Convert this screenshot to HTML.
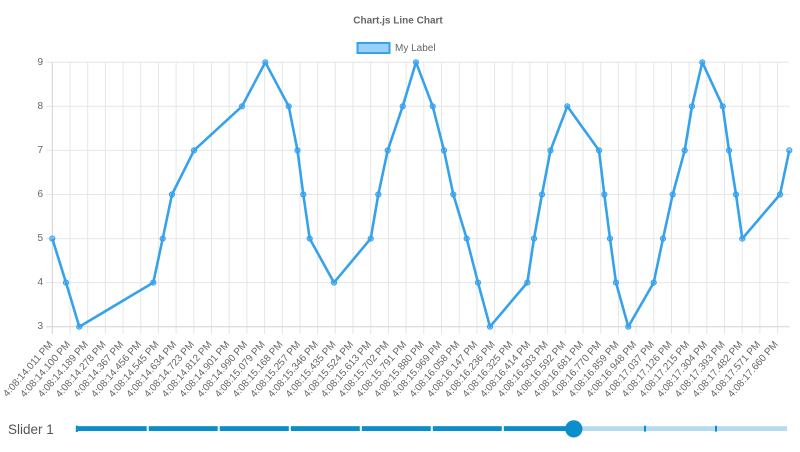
<!DOCTYPE html>
<html>
<head>
<meta charset="utf-8">
<style>
html,body{margin:0;padding:0;background:#fff;}
svg{display:block;}
text{font-family:"Liberation Sans",Arial,sans-serif;}
</style>
</head>
<body>
<svg width="800" height="452" viewBox="0 0 800 452" xmlns="http://www.w3.org/2000/svg">
<rect width="800" height="452" fill="#fff"/>
<!-- title -->
<text x="398" y="21" text-anchor="middle" dominant-baseline="central" font-size="10" font-weight="bold" fill="#666">Chart.js Line Chart</text>
<!-- legend -->
<rect x="357.5" y="43" width="32" height="10" fill="rgba(54,162,235,0.5)" stroke="#36A2EB" stroke-width="2"/>
<text x="395" y="48.5" dominant-baseline="central" font-size="10" fill="#666">My Label</text>

<!-- horizontal gridlines -->
<g stroke="#e6e6e6" stroke-width="1">
<line x1="46" y1="62.3" x2="789.5" y2="62.3"/>
<line x1="46" y1="106.3" x2="789.5" y2="106.3"/>
<line x1="46" y1="150.4" x2="789.5" y2="150.4"/>
<line x1="46" y1="194.5" x2="789.5" y2="194.5"/>
<line x1="46" y1="238.6" x2="789.5" y2="238.6"/>
<line x1="46" y1="282.6" x2="789.5" y2="282.6"/>
</g>
<!-- vertical gridlines -->
<g stroke="#e6e6e6" stroke-width="1">
<line x1="70.0" y1="62.3" x2="70.0" y2="334"/>
<line x1="87.7" y1="62.3" x2="87.7" y2="334"/>
<line x1="105.4" y1="62.3" x2="105.4" y2="334"/>
<line x1="123.1" y1="62.3" x2="123.1" y2="334"/>
<line x1="140.8" y1="62.3" x2="140.8" y2="334"/>
<line x1="158.4" y1="62.3" x2="158.4" y2="334"/>
<line x1="176.1" y1="62.3" x2="176.1" y2="334"/>
<line x1="193.8" y1="62.3" x2="193.8" y2="334"/>
<line x1="211.5" y1="62.3" x2="211.5" y2="334"/>
<line x1="229.2" y1="62.3" x2="229.2" y2="334"/>
<line x1="246.9" y1="62.3" x2="246.9" y2="334"/>
<line x1="264.6" y1="62.3" x2="264.6" y2="334"/>
<line x1="282.3" y1="62.3" x2="282.3" y2="334"/>
<line x1="300.0" y1="62.3" x2="300.0" y2="334"/>
<line x1="317.7" y1="62.3" x2="317.7" y2="334"/>
<line x1="335.3" y1="62.3" x2="335.3" y2="334"/>
<line x1="353.0" y1="62.3" x2="353.0" y2="334"/>
<line x1="370.7" y1="62.3" x2="370.7" y2="334"/>
<line x1="388.4" y1="62.3" x2="388.4" y2="334"/>
<line x1="406.1" y1="62.3" x2="406.1" y2="334"/>
<line x1="423.8" y1="62.3" x2="423.8" y2="334"/>
<line x1="441.5" y1="62.3" x2="441.5" y2="334"/>
<line x1="459.2" y1="62.3" x2="459.2" y2="334"/>
<line x1="476.9" y1="62.3" x2="476.9" y2="334"/>
<line x1="494.6" y1="62.3" x2="494.6" y2="334"/>
<line x1="512.2" y1="62.3" x2="512.2" y2="334"/>
<line x1="529.9" y1="62.3" x2="529.9" y2="334"/>
<line x1="547.6" y1="62.3" x2="547.6" y2="334"/>
<line x1="565.3" y1="62.3" x2="565.3" y2="334"/>
<line x1="583.0" y1="62.3" x2="583.0" y2="334"/>
<line x1="600.7" y1="62.3" x2="600.7" y2="334"/>
<line x1="618.4" y1="62.3" x2="618.4" y2="334"/>
<line x1="636.1" y1="62.3" x2="636.1" y2="334"/>
<line x1="653.8" y1="62.3" x2="653.8" y2="334"/>
<line x1="671.5" y1="62.3" x2="671.5" y2="334"/>
<line x1="689.1" y1="62.3" x2="689.1" y2="334"/>
<line x1="706.8" y1="62.3" x2="706.8" y2="334"/>
<line x1="724.5" y1="62.3" x2="724.5" y2="334"/>
<line x1="742.2" y1="62.3" x2="742.2" y2="334"/>
<line x1="759.9" y1="62.3" x2="759.9" y2="334"/>
<line x1="777.6" y1="62.3" x2="777.6" y2="334"/>
</g>
<!-- axes -->
<g stroke="#d2d2d2" stroke-width="1">
<line x1="52.3" y1="62.3" x2="52.3" y2="334"/>
<line x1="46" y1="326.7" x2="789.5" y2="326.7"/>
</g>

<!-- y labels -->
<g font-size="10" fill="#666" text-anchor="end" dominant-baseline="central">
<text x="43" y="62.3">9</text>
<text x="43" y="106.3">8</text>
<text x="43" y="150.4">7</text>
<text x="43" y="194.5">6</text>
<text x="43" y="238.6">5</text>
<text x="43" y="282.6">4</text>
<text x="43" y="326.7">3</text>
</g>

<!-- x labels -->
<g font-size="10" fill="#666" text-anchor="end" dominant-baseline="central">
<text transform="translate(51.3,343) rotate(-49)">4:08:14.011 PM</text>
<text transform="translate(69.0,343) rotate(-49)">4:08:14.100 PM</text>
<text transform="translate(86.7,343) rotate(-49)">4:08:14.189 PM</text>
<text transform="translate(104.4,343) rotate(-49)">4:08:14.278 PM</text>
<text transform="translate(122.1,343) rotate(-49)">4:08:14.367 PM</text>
<text transform="translate(139.8,343) rotate(-49)">4:08:14.456 PM</text>
<text transform="translate(157.4,343) rotate(-49)">4:08:14.545 PM</text>
<text transform="translate(175.1,343) rotate(-49)">4:08:14.634 PM</text>
<text transform="translate(192.8,343) rotate(-49)">4:08:14.723 PM</text>
<text transform="translate(210.5,343) rotate(-49)">4:08:14.812 PM</text>
<text transform="translate(228.2,343) rotate(-49)">4:08:14.901 PM</text>
<text transform="translate(245.9,343) rotate(-49)">4:08:14.990 PM</text>
<text transform="translate(263.6,343) rotate(-49)">4:08:15.079 PM</text>
<text transform="translate(281.3,343) rotate(-49)">4:08:15.168 PM</text>
<text transform="translate(299.0,343) rotate(-49)">4:08:15.257 PM</text>
<text transform="translate(316.7,343) rotate(-49)">4:08:15.346 PM</text>
<text transform="translate(334.3,343) rotate(-49)">4:08:15.435 PM</text>
<text transform="translate(352.0,343) rotate(-49)">4:08:15.524 PM</text>
<text transform="translate(369.7,343) rotate(-49)">4:08:15.613 PM</text>
<text transform="translate(387.4,343) rotate(-49)">4:08:15.702 PM</text>
<text transform="translate(405.1,343) rotate(-49)">4:08:15.791 PM</text>
<text transform="translate(422.8,343) rotate(-49)">4:08:15.880 PM</text>
<text transform="translate(440.5,343) rotate(-49)">4:08:15.969 PM</text>
<text transform="translate(458.2,343) rotate(-49)">4:08:16.058 PM</text>
<text transform="translate(475.9,343) rotate(-49)">4:08:16.147 PM</text>
<text transform="translate(493.6,343) rotate(-49)">4:08:16.236 PM</text>
<text transform="translate(511.2,343) rotate(-49)">4:08:16.325 PM</text>
<text transform="translate(528.9,343) rotate(-49)">4:08:16.414 PM</text>
<text transform="translate(546.6,343) rotate(-49)">4:08:16.503 PM</text>
<text transform="translate(564.3,343) rotate(-49)">4:08:16.592 PM</text>
<text transform="translate(582.0,343) rotate(-49)">4:08:16.681 PM</text>
<text transform="translate(599.7,343) rotate(-49)">4:08:16.770 PM</text>
<text transform="translate(617.4,343) rotate(-49)">4:08:16.859 PM</text>
<text transform="translate(635.1,343) rotate(-49)">4:08:16.948 PM</text>
<text transform="translate(652.8,343) rotate(-49)">4:08:17.037 PM</text>
<text transform="translate(670.5,343) rotate(-49)">4:08:17.126 PM</text>
<text transform="translate(688.1,343) rotate(-49)">4:08:17.215 PM</text>
<text transform="translate(705.8,343) rotate(-49)">4:08:17.304 PM</text>
<text transform="translate(723.5,343) rotate(-49)">4:08:17.393 PM</text>
<text transform="translate(741.2,343) rotate(-49)">4:08:17.482 PM</text>
<text transform="translate(758.9,343) rotate(-49)">4:08:17.571 PM</text>
<text transform="translate(776.6,343) rotate(-49)">4:08:17.660 PM</text>
</g>

<!-- series -->
<polyline fill="none" stroke="#36A2EB" stroke-width="2.6" stroke-linejoin="round" points="52.3,238.6 66,282.6 79.3,326.7 153.3,282.6 162.7,238.6 172,194.5 194,150.4 242,106.3 265.3,62.3 288.7,106.3 297.5,150.4 303.3,194.5 309.7,238.6 334,282.6 370.7,238.6 378.3,194.5 387.7,150.4 402.7,106.3 416,62.3 432.7,106.3 444,150.4 453.3,194.5 466.7,238.6 478,282.6 490,326.7 527.3,282.6 534,238.6 542,194.5 550.5,150.4 567.3,106.3 599,150.4 604.3,194.5 610,238.6 616,282.6 628.3,326.7 653.7,282.6 663,238.6 672.7,194.5 684.7,150.4 692,106.3 702.3,62.3 722.7,106.3 729,150.4 736,194.5 742.3,238.6 780,194.5 789.3,150.4"/>
<g fill="rgba(54,162,235,0.5)" stroke="#36A2EB" stroke-width="1">
<circle cx="52.3" cy="238.6" r="2.6"/><circle cx="66" cy="282.6" r="2.6"/><circle cx="79.3" cy="326.7" r="2.6"/><circle cx="153.3" cy="282.6" r="2.6"/><circle cx="162.7" cy="238.6" r="2.6"/><circle cx="172" cy="194.5" r="2.6"/><circle cx="194" cy="150.4" r="2.6"/><circle cx="242" cy="106.3" r="2.6"/><circle cx="265.3" cy="62.3" r="2.6"/><circle cx="288.7" cy="106.3" r="2.6"/><circle cx="297.5" cy="150.4" r="2.6"/><circle cx="303.3" cy="194.5" r="2.6"/><circle cx="309.7" cy="238.6" r="2.6"/><circle cx="334" cy="282.6" r="2.6"/><circle cx="370.7" cy="238.6" r="2.6"/><circle cx="378.3" cy="194.5" r="2.6"/><circle cx="387.7" cy="150.4" r="2.6"/><circle cx="402.7" cy="106.3" r="2.6"/><circle cx="416" cy="62.3" r="2.6"/><circle cx="432.7" cy="106.3" r="2.6"/><circle cx="444" cy="150.4" r="2.6"/><circle cx="453.3" cy="194.5" r="2.6"/><circle cx="466.7" cy="238.6" r="2.6"/><circle cx="478" cy="282.6" r="2.6"/><circle cx="490" cy="326.7" r="2.6"/><circle cx="527.3" cy="282.6" r="2.6"/><circle cx="534" cy="238.6" r="2.6"/><circle cx="542" cy="194.5" r="2.6"/><circle cx="550.5" cy="150.4" r="2.6"/><circle cx="567.3" cy="106.3" r="2.6"/><circle cx="599" cy="150.4" r="2.6"/><circle cx="604.3" cy="194.5" r="2.6"/><circle cx="610" cy="238.6" r="2.6"/><circle cx="616" cy="282.6" r="2.6"/><circle cx="628.3" cy="326.7" r="2.6"/><circle cx="653.7" cy="282.6" r="2.6"/><circle cx="663" cy="238.6" r="2.6"/><circle cx="672.7" cy="194.5" r="2.6"/><circle cx="684.7" cy="150.4" r="2.6"/><circle cx="692" cy="106.3" r="2.6"/><circle cx="702.3" cy="62.3" r="2.6"/><circle cx="722.7" cy="106.3" r="2.6"/><circle cx="729" cy="150.4" r="2.6"/><circle cx="736" cy="194.5" r="2.6"/><circle cx="742.3" cy="238.6" r="2.6"/><circle cx="780" cy="194.5" r="2.6"/><circle cx="789.3" cy="150.4" r="2.6"/>
</g>

<!-- slider -->
<text x="8" y="434" font-size="13.5" fill="#555">Slider 1</text>
<rect x="76.7" y="426.2" width="710.3" height="4.8" fill="#b5dbef"/>
<rect x="76.7" y="426.2" width="497.1" height="4.8" fill="#0b8fcc"/>
<g fill="#fff">
<rect x="146.7" y="425.5" width="2" height="6.5"/>
<rect x="217.7" y="425.5" width="2" height="6.5"/>
<rect x="288.8" y="425.5" width="2" height="6.5"/>
<rect x="359.8" y="425.5" width="2" height="6.5"/>
<rect x="430.8" y="425.5" width="2" height="6.5"/>
<rect x="501.8" y="425.5" width="2" height="6.5"/>
</g>
<g fill="#0b8fcc">
<rect x="75.8" y="425.6" width="2" height="6.4"/>
<rect x="644" y="425.8" width="2" height="5.8"/>
<rect x="715" y="425.8" width="2" height="5.8"/>
</g>
<circle cx="573.8" cy="429.4" r="8.8" fill="#000" opacity="0.08"/>
<circle cx="573.8" cy="428.8" r="8.6" fill="#0b8fcc"/>
</svg>
</body>
</html>
